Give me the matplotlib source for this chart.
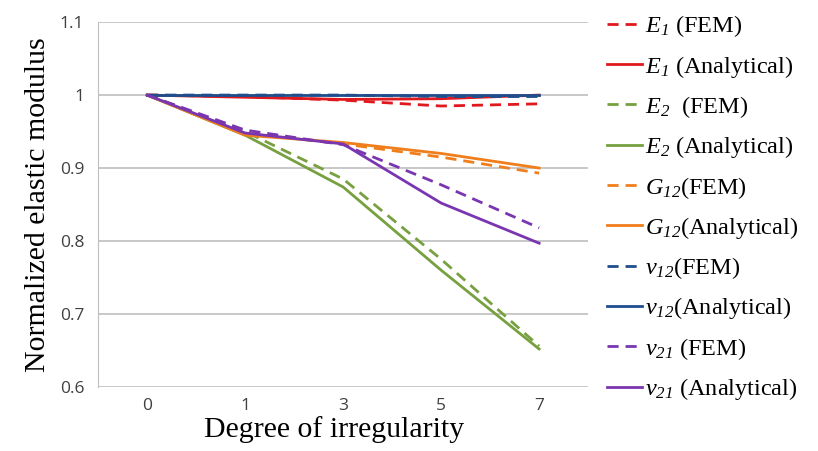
import matplotlib
matplotlib.use('Agg')
import matplotlib.pyplot as plt

# italic digits in subscripts: the 'it' slot forces digits upright, so use 'sf'
plt.rcParams['mathtext.fontset'] = 'custom'
plt.rcParams['mathtext.rm'] = 'Liberation Serif'
plt.rcParams['mathtext.it'] = 'Liberation Serif:italic'
plt.rcParams['mathtext.sf'] = 'Liberation Serif:italic'

degree = ['0', '1', '3', '5', '7']

e1_fem = [1.0, 0.998, 0.993, 0.985, 0.988]
e1_ana = [1.0, 0.997, 0.994, 0.995, 1.0]
e2_fem = [1.0, 0.950, 0.885, 0.775, 0.656]
e2_ana = [1.0, 0.945, 0.874, 0.760, 0.652]
g12_fem = [1.0, 0.948, 0.933, 0.915, 0.893]
g12_ana = [1.0, 0.945, 0.935, 0.920, 0.900]
nu12_fem = [1.0, 1.0, 1.0, 0.998, 0.998]
nu12_ana = [1.0, 1.0, 1.0, 1.0, 1.0]
nu21_fem = [1.0, 0.952, 0.932, 0.877, 0.818]
nu21_ana = [1.0, 0.948, 0.933, 0.852, 0.797]

red = '#E0191F'
green = '#77A040'
orange = '#F07E1C'
blue = '#1F4E8C'
purple = '#7A35B0'

fig = plt.figure(figsize=(8.18, 4.51), dpi=100)
ax = fig.add_axes([0.12, 0.142, 0.599, 0.809])

x = list(range(len(degree)))
dash = (0, (4, 2.5))
lw = 2.0

ax.plot(x, e1_fem, color=red, ls=dash, lw=lw, label=r'$E_{\mathsf{1}}$ (FEM)')
ax.plot(x, e1_ana, color=red, ls='-', lw=lw, label=r'$E_{\mathsf{1}}$ (Analytical)')
ax.plot(x, e2_fem, color=green, ls=dash, lw=lw, label=r'$E_{\mathsf{2}}$  (FEM)')
ax.plot(x, e2_ana, color=green, ls='-', lw=lw, label=r'$E_{\mathsf{2}}$ (Analytical)')
ax.plot(x, g12_fem, color=orange, ls=dash, lw=lw, label=r'$G_{\mathsf{12}}$(FEM)')
ax.plot(x, g12_ana, color=orange, ls='-', lw=lw, label=r'$G_{\mathsf{12}}$(Analytical)')
ax.plot(x, nu12_fem, color=blue, ls=dash, lw=lw, label=r'$\nu_{\mathsf{12}}$(FEM)')
ax.plot(x, nu12_ana, color=blue, ls='-', lw=lw, label=r'$\nu_{\mathsf{12}}$(Analytical)')
ax.plot(x, nu21_fem, color=purple, ls=dash, lw=lw, label=r'$\nu_{\mathsf{21}}$ (FEM)')
ax.plot(x, nu21_ana, color=purple, ls='-', lw=lw, label=r'$\nu_{\mathsf{21}}$ (Analytical)')

ax.set_xlim(-0.5, 4.5)
ax.set_ylim(0.6, 1.1)
ax.set_xticks(x)
ax.set_xticklabels(degree)
ax.set_yticks([0.6, 0.7, 0.8, 0.9, 1.0, 1.1])
ax.set_yticklabels(['0.6', '0.7', '0.8', '0.9', '1', '1.1'])
ax.tick_params(length=0, labelsize=12.5, labelcolor='#404040', pad=10)
ax.tick_params(axis='x', pad=8)
for lab in ax.get_xticklabels() + ax.get_yticklabels():
    lab.set_family('Open Sans')
ax.grid(axis='y', color='#BFBFBF', lw=1.2)
ax.set_axisbelow(True)
for s in ['top', 'right', 'bottom']:
    ax.spines[s].set_visible(False)
ax.spines['left'].set_color('#BFBFBF')

ax.set_xlabel('Degree of irregularity', family='Liberation Serif', fontsize=21.5)
ax.xaxis.set_label_coords(0.482, -0.081)
ax.set_ylabel('Normalized elastic modulus', family='Liberation Serif', fontsize=21.5, labelpad=6)

leg = ax.legend(loc='upper left', bbox_to_anchor=(1.039, 1.024), frameon=False,
                prop={'family': 'Liberation Serif', 'size': 17.5},
                handlelength=1.45, handletextpad=0.12, labelspacing=0.59,
                borderpad=0, borderaxespad=0)

fig.savefig('out.png', dpi=100)
